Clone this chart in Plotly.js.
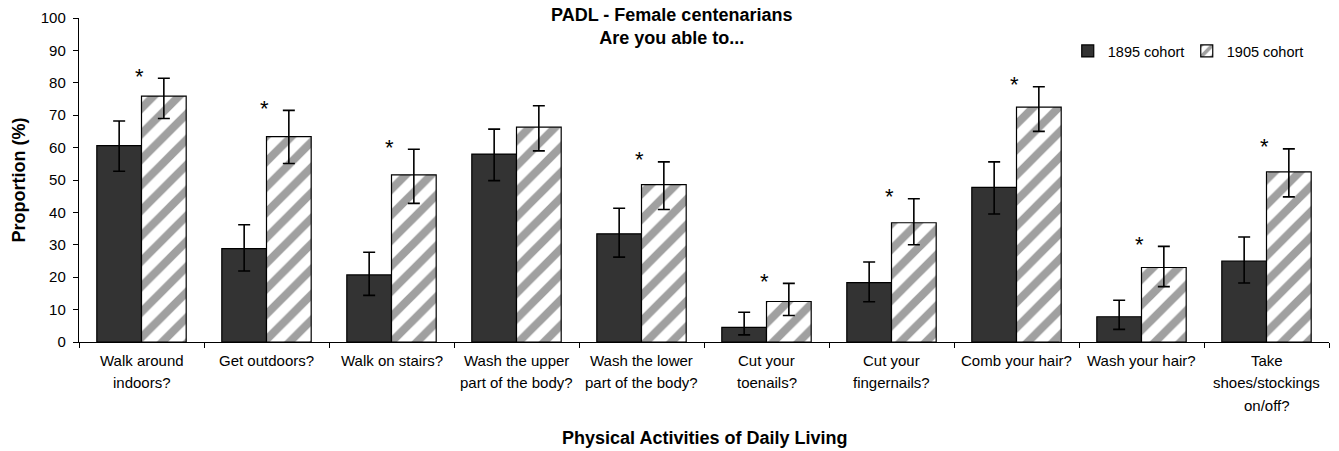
<!DOCTYPE html>
<html>
<head>
<meta charset="utf-8">
<script src="https://cdn.plot.ly/plotly-3.0.1.min.js"></script>
<style>html,body{margin:0;padding:0;background:#fff;}#chart{width:1339px;height:451px;}</style>
</head>
<body>
<div id="chart"></div>
<script>
const categories = [
  "Walk around<br>indoors?",
  "Get outdoors?",
  "Walk on stairs?",
  "Wash the upper<br>part of the body?",
  "Wash the lower<br>part of the body?",
  "Cut your<br>toenails?",
  "Cut your<br>fingernails?",
  "Comb your hair?",
  "Wash your hair?",
  "Take<br>shoes/stockings<br>on/off?"
];
const cohort1895 = [60.6, 28.8, 20.7, 58.0, 33.4, 4.5, 18.3, 47.7, 7.8, 25.0];
const cohort1895Plus = [7.6, 7.4, 7.0, 7.7, 7.9, 4.7, 6.4, 7.9, 5.1, 7.4];
const cohort1895Minus = [7.9, 6.9, 6.3, 8.2, 7.2, 2.3, 5.9, 8.2, 3.9, 6.8];
const cohort1905 = [75.9, 63.4, 51.6, 66.3, 48.6, 12.5, 36.8, 72.5, 23.0, 52.5];
const cohort1905Plus = [5.5, 8.1, 7.9, 6.6, 7.0, 5.6, 7.4, 6.3, 6.5, 7.1];
const cohort1905Minus = [6.9, 8.3, 8.8, 7.3, 7.7, 4.3, 6.8, 7.5, 5.9, 7.7];
const significant = [true, true, true, false, true, true, true, true, true, true];

const FONT = '"Liberation Sans", Arial, sans-serif';

const traces = [
  {
    type: 'bar', name: '1895 cohort', x: categories, y: cohort1895,
    marker: {color: '#333333', line: {color: '#000', width: 1.2}},
    error_y: {type: 'data', symmetric: false, array: cohort1895Plus, arrayminus: cohort1895Minus,
              color: '#000', thickness: 1.6, width: 6}
  },
  {
    type: 'bar', name: '1905 cohort', x: categories, y: cohort1905,
    marker: {color: '#ffffff', line: {color: '#000', width: 1.2},
             pattern: {shape: '/', fgcolor: '#a0a0a0', bgcolor: '#ffffff', size: 18, solidity: 0.45}},
    error_y: {type: 'data', symmetric: false, array: cohort1905Plus, arrayminus: cohort1905Minus,
              color: '#000', thickness: 1.6, width: 6}
  }
];

const annotations = [];
categories.forEach((c, i) => {
  if (significant[i]) {
    annotations.push({x: c, y: cohort1905[i] + cohort1905Plus[i], xref: 'x', yref: 'y',
      text: '*', showarrow: false, font: {family: FONT, size: 22, color: '#000'},
      xanchor: 'center', yanchor: 'middle', xshift: -2, yshift: 2});
  }
  c.split('<br>').forEach((line, j) => {
    annotations.push({x: c, y: 0, xref: 'x', yref: 'paper', text: line, showarrow: false,
      font: {family: FONT, size: 15, color: '#000'}, xanchor: 'center', yanchor: 'middle',
      yshift: -18 - j * 22.8});
  });
});
annotations.push({x: 0.5, y: 0, xref: 'paper', yref: 'paper', text: '<b>Physical Activities of Daily Living</b>',
  showarrow: false, font: {family: FONT, size: 18, color: '#000'}, xanchor: 'center', yanchor: 'middle', yshift: -96});
annotations.push({x: 0.4736, y: 1, xref: 'paper', yref: 'paper',
  text: '<b>PADL - Female centenarians<br>Are you able to...</b>',
  showarrow: false, font: {family: FONT, size: 18, color: '#000'}, xanchor: 'center', yanchor: 'middle',
  align: 'center', yshift: -8.5});

const layout = {
  width: 1339, height: 451,
  margin: {l: 79, r: 10, t: 18, b: 109},
  paper_bgcolor: '#fff', plot_bgcolor: '#fff',
  font: {family: FONT, size: 14, color: '#000'},
  barmode: 'group', bargap: 0.285, bargroupgap: 0,
  showlegend: true,
  legend: {orientation: 'h', x: 0.791, xanchor: 'left', y: 0.898, yanchor: 'middle',
           font: {family: FONT, size: 14.5, color: '#000'}, bgcolor: 'rgba(0,0,0,0)', traceorder: 'normal',
           entrywidth: 74, entrywidthmode: 'pixels'},
  xaxis: {type: 'category', showticklabels: false, ticks: 'outside', tickson: 'boundaries', ticklen: 5,
          tickcolor: '#000', showline: true, linecolor: '#000', linewidth: 1.2, showgrid: false, zeroline: false,
          fixedrange: true},
  yaxis: {range: [0, 100], dtick: 10, ticks: 'outside', ticklen: 5, tickcolor: '#000', showline: true,
          linecolor: '#000', linewidth: 1.2, showgrid: false, zeroline: false, ticklabelstandoff: 4,
          tickfont: {family: FONT, size: 15, color: '#000'},
          title: {text: '<b>Proportion (%)</b>', font: {family: FONT, size: 18, color: '#000'}, standoff: 10}},
  annotations: annotations
};

Plotly.newPlot('chart', traces, layout, {displayModeBar: false, staticPlot: true});
</script>
</body>
</html>
